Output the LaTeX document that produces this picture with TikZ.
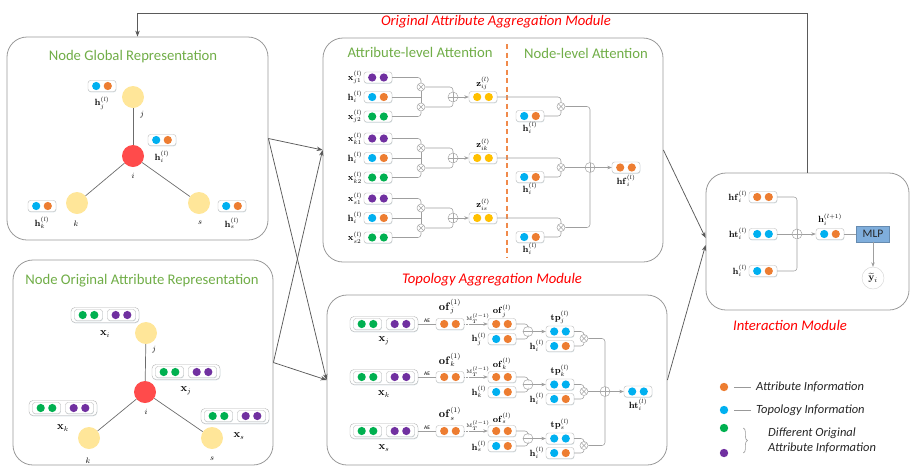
\documentclass[tikz,border=0pt]{standalone}
\usepackage[no-math]{fontspec}
\newfontfamily\carlito{Carlito}
\usetikzlibrary{arrows.meta,shadows,decorations.pathreplacing}

\definecolor{cOr}{HTML}{ED7D31}
\definecolor{cBl}{HTML}{00B0F0}
\definecolor{cGr}{HTML}{00B050}
\definecolor{cPu}{HTML}{7030A0}
\definecolor{cYe}{HTML}{FFC000}
\definecolor{cTitle}{HTML}{70AD47}
\definecolor{cNode}{HTML}{FFE699}
\definecolor{cRed}{HTML}{FF4B4B}
\definecolor{cMLP}{HTML}{7FAEDC}
\definecolor{cDash}{HTML}{F08A4B}
\definecolor{cLine}{HTML}{5A5A5A}

% a small vector: rounded box holding two coloured dots
\newcommand\pillpair[4]{%
  \node[pill] (#1) at (#2) {};
  \fill[#3] ([xshift=-5.8pt]#1.center) circle (4.1pt);
  \fill[#4] ([xshift=5.8pt]#1.center) circle (4.1pt);}
% an original attribute vector: green pair and purple pair in one frame
\newcommand\attrpill[2]{%
  \node[outerpill] (#1) at (#2) {};
  \pillpair{#1g}{[xshift=-16.5pt]#1.center}{cGr}{cGr}
  \pillpair{#1p}{[xshift=16.5pt]#1.center}{cPu}{cPu}}

\begin{document}
\begin{tikzpicture}[x=1pt,y=-1pt,
  panel/.style={draw=gray!80, line width=0.8pt, rounded corners=20pt, inner sep=0pt},
  title/.style={font=\carlito\fontsize{14.7}{17}\selectfont, text=cTitle},
  modtitle/.style={font=\carlito\itshape\fontsize{14.7}{17}\selectfont, text=red},
  legtxt/.style={font=\carlito\itshape\fontsize{12.5}{14}\selectfont, text=black!85, anchor=west, inner sep=0pt},
  pill/.style={draw=gray!55, fill=white, rounded corners=2.5pt, minimum width=28pt,
    minimum height=11pt, inner sep=0pt,
    drop shadow={shadow xshift=0.3pt, shadow yshift=-0.8pt, fill=cBl!25!gray!40, opacity=0.6}},
  outerpill/.style={draw=gray!60, fill=white, rounded corners=4pt, minimum width=68pt,
    minimum height=15pt, inner sep=0pt,
    drop shadow={shadow xshift=0.3pt, shadow yshift=-0.8pt, fill=cBl!25!gray!40, opacity=0.6}},
  gnode/.style={circle, minimum size=22pt, inner sep=0pt},
  edge/.style={draw=gray!85!black, line width=0.7pt},
  vlab/.style={font=\fontsize{8}{9}\selectfont, inner sep=0.5pt},
  mlab/.style={font=\fontsize{9}{9}\selectfont, inner sep=0.5pt},
  blab/.style={font=\fontsize{10.5}{11}\selectfont, inner sep=0.5pt},
  wire/.style={draw=gray!75, line width=0.55pt, rounded corners=3pt},
  arr/.style={wire, -{Stealth[length=4.5pt,width=3.5pt]}},
  link/.style={draw=cLine, line width=0.75pt, -{Stealth[length=6pt,width=4.5pt]}},
  divider/.style={draw=cDash, line width=1.4pt, dash pattern=on 5pt off 3.5pt},
  opbase/.style={circle, draw=gray!70, fill=white, inner sep=0pt, line width=0.5pt},
  otimes/.style={opbase, minimum size=8pt, path picture={\draw[gray!70, line width=0.5pt]
    (path picture bounding box.north west) -- (path picture bounding box.south east)
    (path picture bounding box.south west) -- (path picture bounding box.north east);}},
  oplus/.style={opbase, minimum size=10pt, path picture={\draw[gray!70, line width=0.5pt]
    (path picture bounding box.north) -- (path picture bounding box.south)
    (path picture bounding box.west) -- (path picture bounding box.east);}},
  ominus/.style={opbase, minimum size=10pt, path picture={\draw[gray!70, line width=0.5pt]
    (path picture bounding box.west) -- (path picture bounding box.east);}},
  ldot/.style={circle, minimum size=8.4pt, inner sep=0pt},
  ]
\useasboundingbox (0,0) rectangle (911,467);

% ---------------- panels ----------------
\node[panel, minimum width=261pt, minimum height=203pt] (pG) at (137.5,138.5) {};
\node[panel, minimum width=260pt, minimum height=205pt] (pO) at (143,362.5) {};
\node[panel, minimum width=340pt, minimum height=224pt] (pA) at (493,150) {};
\node[panel, minimum width=340pt, minimum height=170pt] (pT) at (497,380) {};
\node[panel, minimum width=203pt, minimum height=137pt] (pR) at (807.5,241.5) {};

\node[title] (tG) at (133,57) {Node Global Representation};
\node[title] (tO) at (142,281) {Node Original Attribute Representation};
\node[title] (tA) at (420,52) {Attribute-level Attention};
\node[title] (tN) at (586,53) {Node-level Attention};
\node[modtitle] (mA) at (496,22) {Original Attribute Aggregation Module};
\node[modtitle] (mT) at (492,280) {Topology Aggregation Module};
\node[modtitle] (mR) at (790,325) {Interaction Module};

% ---------------- connections between modules ----------------
\coordinate (fb) at (0,13);
\draw[link] (pR.north) -- (pR.north |- fb) -- (pG.north |- fb) -- (pG.north);
\draw[link] (pG.east) -- (pA.west);
\draw[link] (pG.east) -- (pT.west);
\draw[link] (pO.east) -- (pA.west);
\draw[link] (pO.east) -- (pT.west);
\draw[link] (pA.east) -- ([yshift=3.5pt]pR.west);
\draw[link] (pT.east) -- ([yshift=-3.5pt]pR.west);

% ---------------- node global representation ----------------
\node[gnode, fill=cRed] (gi) at (133,156) {};
\node[gnode, fill=cNode] (gj) at (133,97) {};
\node[gnode, fill=cNode] (gk) at (77,203) {};
\node[gnode, fill=cNode] (gs) at (199,203) {};
\draw[edge] (gi) -- (gj);
\draw[edge] (gi) -- (gk);
\draw[edge] (gi) -- (gs);
\node[vlab] (lgj) at (142,115) {$j$};
\node[vlab] (lgi) at (133,176) {$i$};
\node[vlab] (lgk) at (76,224) {$k$};
\node[vlab] (lgs) at (200,223) {$s$};
\pillpair{hj}{102,86}{cBl}{cOr}
\pillpair{hi}{162,140}{cBl}{cOr}
\pillpair{hk}{42,206}{cBl}{cOr}
\pillpair{hs}{232,206}{cBl}{cOr}
\node[mlab] (lhj) at (102,103) {$\mathbf{h}_j^{(l)}$};
\node[mlab] (lhi) at (162,157) {$\mathbf{h}_i^{(l)}$};
\node[mlab] (lhk) at (42,223) {$\mathbf{h}_k^{(l)}$};
\node[mlab] (lhs) at (232,223) {$\mathbf{h}_s^{(l)}$};

% ---------------- node original attribute representation ----------------
\node[gnode, fill=cRed] (oi) at (145,392) {};
\node[gnode, fill=cNode] (oj) at (146,333) {};
\node[gnode, fill=cNode] (ok) at (89,438) {};
\node[gnode, fill=cNode] (os) at (212,438) {};
\draw[edge] (oi) -- (oj);
\draw[edge] (oi) -- (ok);
\draw[edge] (oi) -- (os);
\node[vlab] (loj) at (154,350) {$j$};
\node[vlab] (loi) at (146,412) {$i$};
\node[vlab] (lok) at (88,461) {$k$};
\node[vlab] (los) at (212,459) {$s$};
\attrpill{xi}{105,315}
\attrpill{xj}{186,372}
\attrpill{xk}{63,408}
\attrpill{xs}{235,416}
\node[blab] (lxi) at (105,334) {$\mathbf{x}_i$};
\node[blab] (lxj) at (186,391) {$\mathbf{x}_j$};
\node[blab] (lxk) at (63,428) {$\mathbf{x}_k$};
\node[blab] (lxs) at (239,436) {$\mathbf{x}_s$};

% ---------------- attribute-level and node-level attention ----------------
\coordinate (divtop) at (507,44);
\coordinate (divbot) at (507,258);
\draw[divider] (divtop) -- (divbot);
\foreach \g/\m/\y in {1/j/97, 2/k/158, 3/s/218}{
  \pillpair{a\g}{378,\y-19.5}{cPu}{cPu}
  \pillpair{b\g}{378,\y}{cBl}{cOr}
  \pillpair{c\g}{378,\y+19.5}{cGr}{cGr}
  \node[mlab, anchor=east] (la\g) at (363,\y-19.5) {$\mathbf{x}_{\m 1}^{(l)}$};
  \node[mlab, anchor=east] (lb\g) at (363,\y) {$\mathbf{h}_{i}^{(l)}$};
  \node[mlab, anchor=east] (lc\g) at (363,\y+19.5) {$\mathbf{x}_{\m 2}^{(l)}$};
  \node[otimes] (ta\g) at (421,\y-10) {};
  \node[otimes] (tb\g) at (421,\y+10) {};
  \node[oplus] (pa\g) at (453,\y) {};
  \pillpair{z\g}{483,\y}{cYe}{cYe}
  \node[mlab] (lz\g) at (483,\y-13.5) {$\mathbf{z}_{i\m}^{(l)}$};
  \draw[wire] (a\g.east) -| (ta\g.north);
  \draw[wire] (c\g.east) -| (tb\g.south);
  \draw[wire] (b\g.east) -- (b\g.east -| ta\g.south);
  \draw[wire] (ta\g.south) -- (tb\g.north);
  \draw[wire] (ta\g.east) -| (pa\g.north);
  \draw[wire] (tb\g.east) -| (pa\g.south);
  \draw[arr] (pa\g) -- (z\g);
  % node-level weighting
  \node[otimes] (n\g) at (561,\y+9.5) {};
  \pillpair{q\g}{530,\y+19}{cBl}{cOr}
  \node[mlab] (lq\g) at (530,\y+31) {$\mathbf{h}_i^{(l)}$};
  \draw[wire] (z\g.east) -| (n\g.north);
  \draw[wire] (q\g.east) -| (n\g.south);
}
\node[oplus] (sumA) at (590,167.5) {};
\draw[wire] (n1.east) -| (sumA.north);
\draw[wire] (n2) -- (sumA);
\draw[wire] (n3.east) -| (sumA.south);
\pillpair{hf}{626,167.5}{cOr}{cOr}
\node[mlab] (lhf) at (626,181) {$\mathbf{hf}_i^{(l)}$};
\draw[arr] (sumA) -- (hf);

% ---------------- topology aggregation ----------------
\foreach \r/\m/\y in {1/j/324, 2/k/377, 3/s/431}{
  \attrpill{x\r}{384,\y}
  \node[blab] (lx\r) at (384,\y+17) {$\mathbf{x}_\m$};
  \pillpair{o\r}{450,\y}{cOr}{cOr}
  \node[blab] (lo\r) at (450,\y-17) {$\mathbf{of}_\m^{(1)}$};
  \draw[wire] (x\r.east) -- (o\r.west)
    node[midway, above, inner sep=0.8pt, font=\carlito\fontsize{5.5}{6}\selectfont] {AE};
  \pillpair{f\r}{502,\y}{cOr}{cOr}
  \node[mlab] (lf\r) at (502,\y-13) {$\mathbf{of}_\m^{(l)}$};
  \coordinate (d\r) at (471,\y);
  \draw[wire, densely dotted, line width=0.8pt] (o\r.east) -- (d\r);
  \draw[arr] (d\r) -- (f\r.west);
  \node[font=\fontsize{4.5}{5}\selectfont, inner sep=0pt] (lm\r) at (478,\y-5.5) {$\mathrm{M}_T^{(l-1)}$};
  \pillpair{g\r}{502,\y+15}{cBl}{cOr}
  \node[mlab, anchor=east] (lg\r) at (487,\y+15) {$\mathbf{h}_\m^{(l)}$};
  \node[ominus] (m\r) at (528,\y+7.5) {};
  \draw[wire] (f\r.east) -| (m\r.north);
  \draw[wire] (g\r.east) -| (m\r.south);
  \pillpair{t\r}{560,\y+7.5}{cBl}{cBl}
  \node[mlab] (lt\r) at (560,\y-6.5) {$\mathbf{tp}_\m^{(l)}$};
  \draw[arr] (m\r) -- (t\r);
  \pillpair{u\r}{560,\y+22}{cBl}{cOr}
  \node[mlab, anchor=east] (lu\r) at (545,\y+22) {$\mathbf{h}_i^{(l)}$};
  \node[otimes] (v\r) at (584,\y+14.5) {};
  \draw[wire] (t\r.east) -| (v\r.north);
  \draw[wire] (u\r.east) -| (v\r.south);
}
\node[oplus] (sumT) at (605,391.5) {};
\draw[wire] (v1.east) -| (sumT.north);
\draw[wire] (v2) -- (sumT);
\draw[wire] (v3.east) -| (sumT.south);
\pillpair{ht}{638,391.5}{cBl}{cBl}
\node[mlab] (lht) at (638,405) {$\mathbf{ht}_i^{(l)}$};
\draw[arr] (sumT) -- (ht);

% ---------------- interaction ----------------
\pillpair{rf}{763,197}{cOr}{cOr}
\pillpair{rt}{763,234}{cBl}{cBl}
\pillpair{rh}{763,271}{cBl}{cOr}
\node[mlab, anchor=east] (lrf) at (748,197) {$\mathbf{hf}_i^{(l)}$};
\node[mlab, anchor=east] (lrt) at (748,234) {$\mathbf{ht}_i^{(l)}$};
\node[mlab, anchor=east] (lrh) at (748,271) {$\mathbf{h}_i^{(l)}$};
\node[oplus] (rp) at (797,234) {};
\draw[wire] (rf.east) -| (rp.north);
\draw[wire] (rt) -- (rp);
\draw[wire] (rh.east) -| (rp.south);
\pillpair{rn}{830,234}{cBl}{cOr}
\node[mlab] (lrn) at (830,219.5) {$\mathbf{h}_i^{(l+1)}$};
\draw[arr] (rp) -- (rn);
\node[fill=cMLP, draw=cMLP!80!black, line width=0.3pt, minimum width=33pt, minimum height=16pt,
  inner sep=0pt, font=\carlito\fontsize{11.5}{12}\selectfont, text=black!85] (mlp) at (873,234) {MLP};
\draw[wire] (rn.east) -- (mlp.west);
\node[circle, draw=gray!35, fill=white, minimum size=22pt, inner sep=0pt] (yh) at (873,278) {};
\node[font=\fontsize{10}{11}\selectfont, inner sep=0pt] (lyh) at (yh.center) {$\widetilde{\mathbf{y}}_i$};
\draw[arr] (mlp.south) -- (yh.north);

% ---------------- legend ----------------
\node[ldot, fill=cOr] (dOr) at (724,387) {};
\node[ldot, fill=cBl] (dBl) at (724,410) {};
\node[ldot, fill=cGr] (dGr) at (724,428) {};
\node[ldot, fill=cPu] (dPu) at (724,453) {};
\node[legtxt] (tOr) at (756,387) {Attribute Information};
\node[legtxt] (tBl) at (756,410) {Topology Information};
\node[legtxt] (tGr) at (768,433) {Different Original};
\node[legtxt] (tPu) at (768,448) {Attribute Information};
\draw[gray!80, line width=0.5pt] ([xshift=6pt]dOr.east) -- ([xshift=-5pt]tOr.west);
\draw[gray!80, line width=0.5pt] ([xshift=6pt]dBl.east) -- ([xshift=-5pt]tBl.west);
\draw[gray!80, line width=0.6pt, decorate, decoration={brace, amplitude=4pt}]
  ([xshift=15pt]dGr.east) -- ([xshift=15pt]dPu.east);
\end{tikzpicture}
\end{document}
